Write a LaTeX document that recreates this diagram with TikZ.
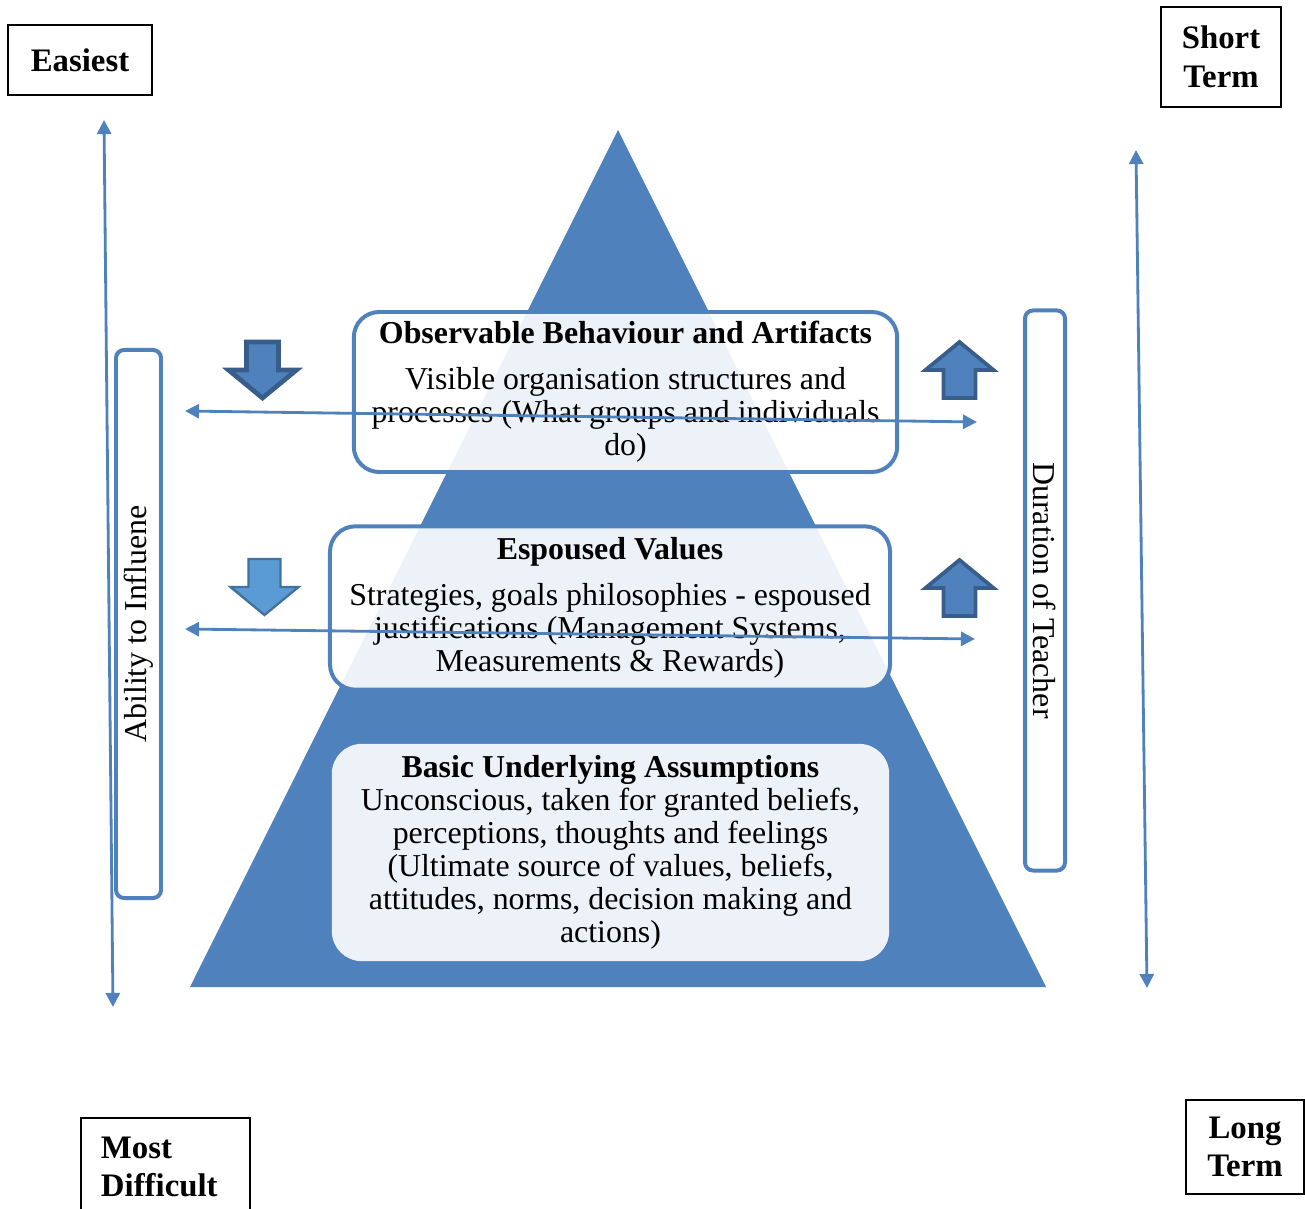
\documentclass[tikz,border=0pt]{standalone}
\usepackage{fontspec}
\setmainfont{Liberation Serif}
\usetikzlibrary{arrows.meta,positioning,shapes}
\definecolor{ppblue}{HTML}{4F81BD}
\definecolor{ppdark}{HTML}{385D8A}
\definecolor{pplight}{HTML}{5B9BD5}
\definecolor{ppmid}{HTML}{41719C}

\begin{document}
\begin{tikzpicture}[x=0.015cm, y=-0.015cm,
  layer box/.style={fill=white, fill opacity=0.9, text opacity=1, rounded corners=0.38cm, align=center, font=\fontsize{13.6}{14.1}\selectfont, inner sep=0pt},
  side box/.style={draw=ppblue, line width=1.7pt, rounded corners=0.12cm, font=\fontsize{13.6}{14.1}\selectfont, inner sep=0pt},
  label box/.style={draw=black, line width=0.85pt, font=\fontsize{14}{16.5}\selectfont\bfseries, align=center, inner sep=0pt},
  thin arrow/.style={draw=ppblue, line width=1.2pt, {Triangle[length=6pt,width=6pt]}-{Triangle[length=6pt,width=6pt]}},
  block/.style={draw=ppdark, fill=ppblue, line width=1.6pt, miter limit=10},
  down block/.pic={\path[pic actions] (-16,0) -- (16,0) -- (16,28) -- (34,28) -- (0,56) -- (-34,28) -- (-16,28) -- cycle;},
  up block/.pic={\path[pic actions] (-16,0) -- (16,0) -- (16,-28) -- (34,-28) -- (0,-56) -- (-34,-28) -- (-16,-28) -- cycle;}]
\useasboundingbox (0,0) rectangle (1305,1209);
\clip (0,0) rectangle (1305,1209);

% pyramid
\coordinate (apex) at (618,130);
\coordinate (base left) at (190,987);
\coordinate (base right) at (1046,987);
\fill[ppblue] (apex) -- (base left) -- (base right) -- cycle;

\node[layer box, draw=ppblue, line width=1.7pt, minimum width=8.15cm, minimum height=2.4cm] (obs) at (625.5,392)
  {\textbf{Observable Behaviour and Artifacts}\\[5.4pt] Visible organisation structures and\\processes (What groups and individuals\\do)};
\node[layer box, draw=ppblue, line width=1.7pt, minimum width=8.4cm, minimum height=2.45cm] (esp) at (610,608)
  {\textbf{Espoused Values}\\[5.4pt] Strategies, goals philosophies - espoused\\justifications (Management Systems,\\Measurements \& Rewards)};
\node[layer box, rounded corners=0.45cm, minimum width=8.36cm, minimum height=3.26cm] (bua) at (610.5,852.5)
  {\textbf{Basic Underlying Assumptions}\\Unconscious, taken for granted beliefs,\\perceptions, thoughts and feelings\\(Ultimate source of values, beliefs,\\attitudes, norms, decision making and\\actions)};

% side boxes
\node[side box, rotate=90, minimum width=8.22cm, minimum height=0.675cm] (ability) at (138.5,624) {Ability to Influene};
\node[side box, rotate=-90, minimum width=8.4cm, minimum height=0.6cm] (duration) at (1045,590.5) {Duration of Teacher};

% labels
\node[label box, minimum width=2.16cm, minimum height=1.05cm] (easiest) at (80,60) {Easiest};
\node[label box, minimum width=1.8cm, minimum height=1.5cm] (short) at (1221,57) {Short\\Term};
\node[label box, anchor=north west, align=left, text width=1.94cm, inner xsep=0.3cm, inner ysep=0.28cm] (difficult) at (80,1117) {Most\\Difficult};
\node[label box, minimum width=1.77cm, minimum height=1.41cm] (long) at (1245,1147) {Long\\Term};

% thin arrows
\coordinate (inf top) at (104,120);
\coordinate (inf bot) at (113,1007);
\coordinate (dur top) at (1136,150);
\coordinate (dur bot) at (1147,988);
\coordinate (obs left) at (185,411);
\coordinate (obs right) at (977,422);
\coordinate (esp left) at (185,629);
\coordinate (esp right) at (975,639);
\draw[thin arrow] (inf top) -- (inf bot);
\draw[thin arrow] (dur top) -- (dur bot);
\draw[thin arrow] (obs left) -- (obs right);
\draw[thin arrow] (esp left) -- (esp right);

% block arrows
\pic[block, line width=2pt] (down obs) at (262.5,342) {down block};
\pic[block, draw=ppmid, fill=pplight, line width=1pt] (down esp) at (264.5,559) {down block};
\pic[block] (up obs) at (959.5,398) {up block};
\pic[block] (up esp) at (959.5,616) {up block};
\end{tikzpicture}
\end{document}
